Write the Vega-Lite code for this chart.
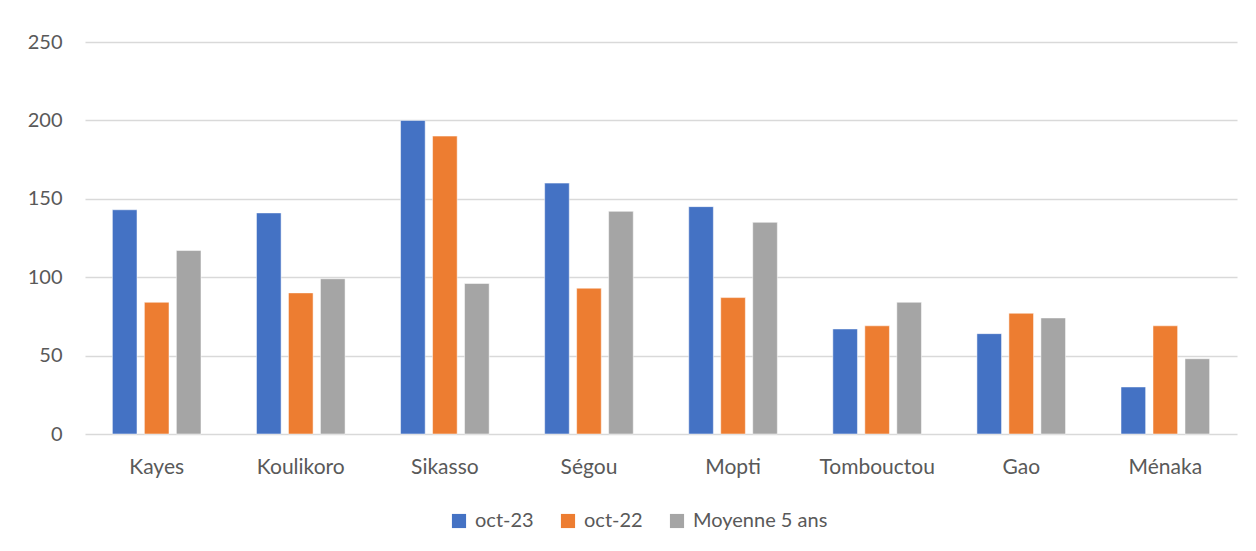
{
  "$schema": "https://vega.github.io/schema/vega-lite/v6.json",
  "autosize": "none",
  "width": 1152,
  "height": 392,
  "padding": {"left": 85, "top": 42, "right": 19, "bottom": 117},
  "background": "white",
  "data": {
    "values": [
      {"region": "Kayes", "serie": "oct-23", "valeur": 143},
      {"region": "Kayes", "serie": "oct-22", "valeur": 84},
      {"region": "Kayes", "serie": "Moyenne 5 ans", "valeur": 117},
      {"region": "Koulikoro", "serie": "oct-23", "valeur": 141},
      {"region": "Koulikoro", "serie": "oct-22", "valeur": 90},
      {"region": "Koulikoro", "serie": "Moyenne 5 ans", "valeur": 99},
      {"region": "Sikasso", "serie": "oct-23", "valeur": 200},
      {"region": "Sikasso", "serie": "oct-22", "valeur": 190},
      {"region": "Sikasso", "serie": "Moyenne 5 ans", "valeur": 96},
      {"region": "Ségou", "serie": "oct-23", "valeur": 160},
      {"region": "Ségou", "serie": "oct-22", "valeur": 93},
      {"region": "Ségou", "serie": "Moyenne 5 ans", "valeur": 142},
      {"region": "Mopti", "serie": "oct-23", "valeur": 145},
      {"region": "Mopti", "serie": "oct-22", "valeur": 87},
      {"region": "Mopti", "serie": "Moyenne 5 ans", "valeur": 135},
      {"region": "Tombouctou", "serie": "oct-23", "valeur": 67},
      {"region": "Tombouctou", "serie": "oct-22", "valeur": 69},
      {"region": "Tombouctou", "serie": "Moyenne 5 ans", "valeur": 84},
      {"region": "Gao", "serie": "oct-23", "valeur": 64},
      {"region": "Gao", "serie": "oct-22", "valeur": 77},
      {"region": "Gao", "serie": "Moyenne 5 ans", "valeur": 74},
      {"region": "Ménaka", "serie": "oct-23", "valeur": 30},
      {"region": "Ménaka", "serie": "oct-22", "valeur": 69},
      {"region": "Ménaka", "serie": "Moyenne 5 ans", "valeur": 48}
    ]
  },
  "mark": {"type": "bar", "stroke": "white", "strokeOpacity": 0.5, "strokeWidth": 1},
  "encoding": {
    "x": {
      "field": "region",
      "type": "nominal",
      "sort": null,
      "scale": {"paddingInner": 0.385, "paddingOuter": 0.19},
      "axis": {
        "title": null,
        "labelAngle": 0,
        "ticks": false,
        "domain": false,
        "labelPadding": 22,
        "labelFont": "Lato",
        "labelFontSize": 21,
        "labelColor": "#595959"
      }
    },
    "xOffset": {
      "field": "serie",
      "type": "nominal",
      "sort": ["oct-23", "oct-22", "Moyenne 5 ans"],
      "scale": {"paddingInner": 0.23, "paddingOuter": 0}
    },
    "y": {
      "field": "valeur",
      "type": "quantitative",
      "scale": {"domain": [0, 250], "nice": false},
      "axis": {
        "title": null,
        "values": [0, 50, 100, 150, 200, 250],
        "ticks": false,
        "domain": false,
        "labelPadding": 23,
        "labelFont": "Lato",
        "labelFontSize": 20,
        "labelColor": "#595959",
        "gridColor": "#D9D9D9",
        "gridWidth": 1.5
      }
    },
    "color": {
      "field": "serie",
      "type": "nominal",
      "sort": ["oct-23", "oct-22", "Moyenne 5 ans"],
      "scale": {
        "domain": ["oct-23", "oct-22", "Moyenne 5 ans"],
        "range": ["#4472C4", "#ED7D31", "#A5A5A5"]
      },
      "legend": {
        "title": null,
        "orient": "none",
        "legendX": 364,
        "legendY": 469,
        "direction": "horizontal",
        "symbolType": "square",
        "symbolSize": 200,
        "symbolStrokeWidth": 0,
        "labelFont": "Lato",
        "labelFontSize": 20,
        "labelColor": "#595959",
        "labelOffset": 6,
        "columnPadding": 24
      }
    }
  },
  "config": {"view": {"stroke": null}}
}
